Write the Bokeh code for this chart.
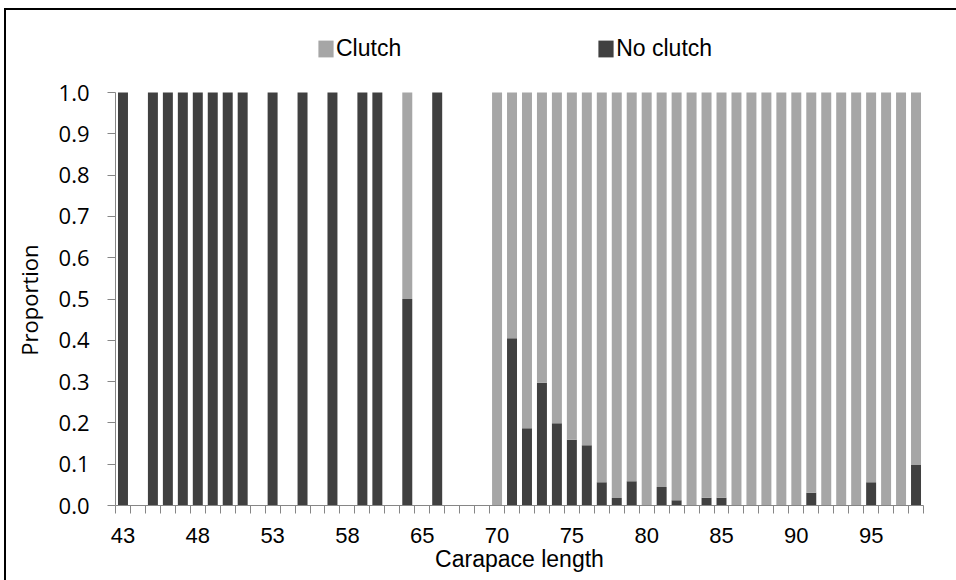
import numpy as np
from bokeh.plotting import figure
from bokeh.models import (ColumnDataSource, FixedTicker, Range1d, Legend, LegendItem,
                          NumeralTickFormatter)
from bokeh.embed import file_html
from bokeh.resources import INLINE

# ---- data ----
lengths = ["43", "44", "45", "46", "47", "48", "49", "50", "51", "52", "53", "54", "55", "56",
           "57", "58", "59", "60", "62", "64", "65", "66", "67", "68", "69", "70", "71", "72",
           "73", "74", "75", "76", "77", "78", "79", "80", "81", "82", "83", "84", "85", "86",
           "87", "88", "89", "90", "91", "92", "93", "94", "95", "96", "97", "98"]
no_clutch = [1.0, 0, 1.0, 1.0, 1.0, 1.0, 1.0, 1.0, 1.0, 0, 1.0, 0, 1.0, 0,
             1.0, 0, 1.0, 1.0, 0, 0.5, 0, 1.0, 0, 0, 0, 0.0, 0.405, 0.187,
             0.297, 0.199, 0.159, 0.146, 0.056, 0.018, 0.059, 0.0, 0.045, 0.013, 0.0, 0.019, 0.019, 0.0,
             0.0, 0.0, 0.0, 0.0, 0.031, 0.0, 0.0, 0.0, 0.056, 0.0, 0.0, 0.098]
clutch = [0.0, 0, 0.0, 0.0, 0.0, 0.0, 0.0, 0.0, 0.0, 0, 0.0, 0, 0.0, 0,
          0.0, 0, 0.0, 0.0, 0, 0.5, 0, 0.0, 0, 0, 0, 1.0, 0.595, 0.813,
          0.703, 0.801, 0.841, 0.854, 0.944, 0.982, 0.941, 1.0, 0.955, 0.987, 1.0, 0.981, 0.981, 1.0,
          1.0, 1.0, 1.0, 1.0, 0.969, 1.0, 1.0, 1.0, 0.944, 1.0, 1.0, 0.902]
label_every = 5
y_ticks = [0.0, 0.1, 0.2, 0.3, 0.4, 0.5, 0.6, 0.7, 0.8, 0.9, 1.0]

DARK = "#404040"
LIGHT = "#A6A6A6"
AXIS = "#868686"
SANS = "Liberation Sans"
OPEN = "Open Sans"

# layout (pixels): frame from y=20 to y=505, value 1.0 drawn at y=92
FRAME_TOP, FRAME_BOTTOM, ONE_AT = 20, 505, 92
y_top = y_ticks[-1] * (FRAME_BOTTOM - FRAME_TOP) / (FRAME_BOTTOM - ONE_AT)

n = len(lengths)
pos = np.arange(n)  # category slot of each carapace length
src = ColumnDataSource(dict(pos=pos, length=lengths, no_clutch=no_clutch, clutch=clutch))

p = figure(width=956, height=580, x_range=Range1d(-0.5, n - 0.5),
           y_range=Range1d(0, y_top), output_backend="svg", toolbar_location=None,
           min_border_left=115, min_border_right=33,
           min_border_top=FRAME_TOP, min_border_bottom=580 - FRAME_BOTTOM)
p.outline_line_color = None
p.grid.visible = False
p.stylesheets = [":host { overflow: hidden; } "
                 ":host::after { content: ''; position: absolute; left: 4px; top: 8px; "
                 "width: 1200px; height: 1200px; border: none; "
                 "border-left: 2px solid #000000; border-top: 2px solid #000000; "
                 "pointer-events: none; }"]

rs = p.vbar_stack(["no_clutch", "clutch"], x="pos", width=0.667, color=[DARK, LIGHT],
                  line_color=None, source=src)

# x axis: tick marks at category boundaries, labels every 5th category
xa = p.xaxis[0]
shown = list(range(0, n, label_every))
xa.ticker = FixedTicker(ticks=shown, minor_ticks=[i - 0.5 for i in range(n + 1)])
xa.major_label_overrides = {i: lengths[i] for i in shown}
xa.major_tick_line_color = None
xa.major_tick_out = 8
xa.major_tick_in = 0
xa.minor_tick_out = 8
xa.minor_tick_in = 0
xa.minor_tick_line_color = AXIS
xa.axis_line_color = AXIS
xa.major_label_text_font = SANS
xa.major_label_text_font_size = "22px"
xa.major_label_text_color = "#000000"
xa.major_label_standoff = 14
xa.axis_label = "Carapace length"
xa.axis_label_text_font = SANS
xa.axis_label_text_font_size = "23px"
xa.axis_label_text_font_style = "normal"
xa.axis_label_text_color = "#000000"
xa.axis_label_standoff = 0

ya = p.yaxis[0]
ya.ticker = FixedTicker(ticks=y_ticks)
ya.bounds = (y_ticks[0], y_ticks[-1])
ya.formatter = NumeralTickFormatter(format="0.0")
ya.major_tick_out = 8
ya.major_tick_in = 0
ya.minor_tick_line_color = None
ya.major_tick_line_color = AXIS
ya.axis_line_color = AXIS
ya.major_label_text_font = OPEN
ya.major_label_text_font_size = "22px"
ya.major_label_text_color = "#000000"
ya.major_label_standoff = 18
# trailing no-break spaces keep the visible title centred on the 0-1 span of the axis
ya.axis_label = "Proportion" + "\u00a0" * 13
ya.axis_label_text_font = OPEN
ya.axis_label_text_font_size = "22px"
ya.axis_label_text_font_style = "normal"
ya.axis_label_text_color = "#000000"
ya.axis_label_standoff = 12

legend = Legend(items=[LegendItem(label="Clutch", renderers=[rs[1]]),
                       LegendItem(label="No clutch", renderers=[rs[0]])],
                orientation="horizontal", location=(201, 443),
                glyph_width=19, glyph_height=21, label_standoff=1, spacing=195,
                padding=0, margin=0, border_line_color=None, background_fill_alpha=0,
                label_text_font=SANS, label_text_font_size="23px",
                label_text_color="#000000")
p.add_layout(legend, "center")

open("out.html", "w").write(file_html(p, INLINE))
